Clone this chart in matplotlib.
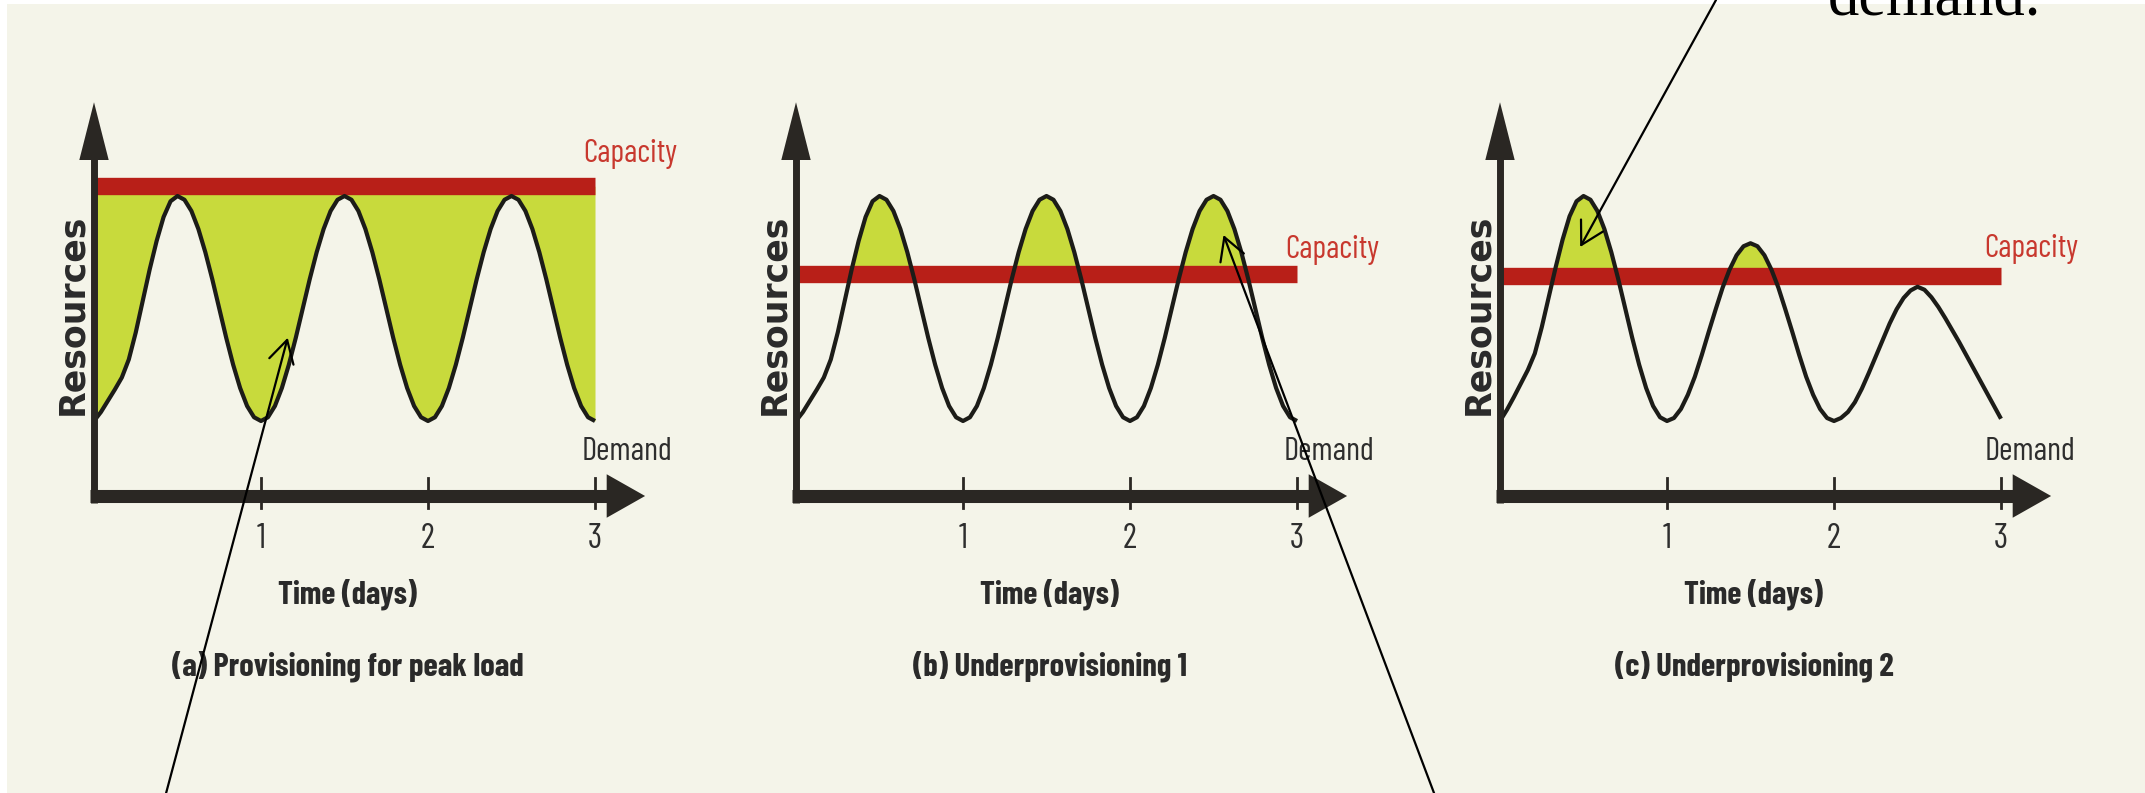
import numpy as np
import matplotlib
matplotlib.use("Agg")
import matplotlib.pyplot as plt
from matplotlib.patches import Rectangle, Polygon, FancyArrowPatch

# ---------------- data ----------------
time_days = np.linspace(0, 3, 73)          # sample grid, 1/24 day
tick_days = [1, 2, 3]
tick_labels = ["1", "2", "3"]

demand_ab = [1.00, 1.12, 1.27, 1.42, 1.58, 1.82, 2.18, 2.60, 3.02, 3.40, 3.72, 3.93, 4.00,
             3.95, 3.80, 3.56, 3.25, 2.89, 2.50, 2.11, 1.75, 1.44, 1.20, 1.05, 1.00,
             1.05, 1.20, 1.44, 1.75, 2.11, 2.50, 2.89, 3.25, 3.56, 3.80, 3.95, 4.00,
             3.95, 3.80, 3.56, 3.25, 2.89, 2.50, 2.11, 1.75, 1.44, 1.20, 1.05, 1.00,
             1.05, 1.20, 1.44, 1.75, 2.11, 2.50, 2.89, 3.25, 3.56, 3.80, 3.95, 4.00,
             3.95, 3.80, 3.56, 3.25, 2.89, 2.50, 2.11, 1.75, 1.44, 1.20, 1.05, 1.00]

demand_c = [1.00, 1.15, 1.32, 1.50, 1.68, 1.90, 2.25, 2.65, 3.05, 3.42, 3.73, 3.93, 4.00,
            3.95, 3.80, 3.56, 3.25, 2.89, 2.50, 2.11, 1.75, 1.44, 1.20, 1.05, 1.00,
            1.04, 1.16, 1.35, 1.59, 1.88, 2.19, 2.49, 2.78, 3.02, 3.21, 3.33, 3.37,
            3.33, 3.21, 3.02, 2.78, 2.49, 2.19, 1.88, 1.59, 1.35, 1.16, 1.04, 1.00,
            1.04, 1.12, 1.25, 1.43, 1.64, 1.86, 2.08, 2.30, 2.49, 2.64, 2.74, 2.79,
            2.75, 2.65, 2.52, 2.37, 2.21, 2.05, 1.88, 1.71, 1.54, 1.37, 1.20, 1.03]

capacity = {"a": 4.13, "b": 2.96, "c": 2.94}
captions = {"a": "(a) Provisioning for peak load",
            "b": "(b) Underprovisioning 1",
            "c": "(c) Underprovisioning 2"}
demands = {"a": demand_ab, "b": demand_ab, "c": demand_c}

# ---------------- style ----------------
W, H, DPI = 2145, 793, 100
CREAM = "#F4F4E9"
GREEN = "#C8DA3C"
RED = "#B81F18"
RED_TXT = "#C8382E"
AXC = "#2A2723"
LINEC = "#1C1C18"
SANS = ["Barlow Condensed", "Roboto Condensed", "DejaVu Sans"]

PX_PER_DAY = 167.0
PX_PER_UNIT = 75.0
XAXIS_PY = 496.0
origins_px = {"a": 94.0, "b": 796.0, "c": 1500.0}
XLIM = (-0.5, 3.6)
YLIM = (-(H - XAXIS_PY) / PX_PER_UNIT, XAXIS_PY / PX_PER_UNIT)

cap_label_y = {"a": 4.45, "b": 3.17, "c": 3.19}
cap_label_x = {"a": 2.93, "b": 2.93, "c": 2.90}
dem_label_x = {"a": 2.92, "b": 2.92, "c": 2.90}

fig = plt.figure(figsize=(W / DPI, H / DPI), dpi=DPI, facecolor="white")
fig.add_artist(Rectangle((7 / W, 0), 1, 1 - 4 / H, transform=fig.transFigure,
                         facecolor=CREAM, edgecolor="none", zorder=-10))

axes = {}
for key in ["a", "b", "c"]:
    ox = origins_px[key]
    left_px = ox + XLIM[0] * PX_PER_DAY
    width_px = (XLIM[1] - XLIM[0]) * PX_PER_DAY
    ax = fig.add_axes([left_px / W, 0, width_px / W, 1])
    ax.set_xlim(*XLIM)
    ax.set_ylim(*YLIM)
    ax.set_axis_off()
    ax.patch.set_alpha(0)
    axes[key] = ax

    dem = np.array(demands[key])
    cap = capacity[key]

    # fill
    if key == "a":
        ax.fill_between(time_days, dem, cap, color=GREEN, lw=0, zorder=1)
    else:
        ax.fill_between(time_days, cap, dem, where=dem > cap, interpolate=True,
                        color=GREEN, lw=0, zorder=1)
    # capacity band
    ax.plot([0, 3], [cap, cap], color=RED, lw=12.5, solid_capstyle="butt", zorder=2)
    # demand curve
    ax.plot(time_days, dem, color=LINEC, lw=3.0, solid_joinstyle="round",
            solid_capstyle="butt", zorder=3)

    # axes arrows
    ax.plot([0, 0], [-0.09, 4.5], color=AXC, lw=5.0, solid_capstyle="butt", zorder=4)
    ax.add_patch(Polygon([[0, 5.25], [-0.088, 4.48], [0.088, 4.48]], closed=True,
                         facecolor=AXC, edgecolor="none", zorder=4))
    ax.plot([-0.025, 3.08], [0, 0], color=AXC, lw=9.4, solid_capstyle="butt", zorder=4)
    ax.add_patch(Polygon([[3.30, 0], [3.07, 0.29], [3.07, -0.29]], closed=True,
                         facecolor=AXC, edgecolor="none", zorder=4))
    for t, lab in zip(tick_days, tick_labels):
        ax.plot([t, t], [0.24, -0.16], color=AXC, lw=2.0, zorder=5)
        ax.text(t, -0.69, lab, ha="center", va="baseline", fontsize=25,
                family=SANS, color="#2E2E2E")

    ax.text(cap_label_x[key], cap_label_y[key], "Capacity", ha="left", va="baseline",
            fontsize=23, family=SANS, color=RED_TXT)
    ax.text(dem_label_x[key], 0.48, "Demand", ha="left", va="baseline",
            fontsize=23.5, family=SANS, color="#2E2E2E")
    ax.text(1.515, -1.43, "Time (days)", ha="center", va="baseline", fontsize=23,
            family=SANS, fontweight="bold", color="#2A2A2A")
    ax.text(1.52, -2.39, captions[key], ha="center", va="baseline", fontsize=23.5,
            family=SANS, fontweight="bold", color="#2A2A2A")
    ax.text(-0.13, 2.42, "Resources", ha="center", va="center", rotation=90,
            fontsize=25, family=["DejaVu Sans"], fontweight="bold", color="#2A2A2A")

# overlay annotation arrows
arrow_kw = dict(arrowstyle="->,head_length=0.8,head_width=0.45", color="black",
                lw=1.6, mutation_scale=20, shrinkA=0, shrinkB=0, zorder=20)
pointers = [("a", (1.16, 2.11), (164 / W, -0.01)),
            ("b", (2.56, 3.48), (1437 / W, -0.01)),
            ("c", (0.48, 3.32), (1716 / W, 1.0))]
for key, tip, tail in pointers:
    ax = axes[key]
    tip_fig = fig.transFigure.inverted().transform(ax.transData.transform(tip))
    arr = FancyArrowPatch(posA=tail, posB=tuple(tip_fig), transform=fig.transFigure,
                          **arrow_kw)
    fig.add_artist(arr)

fig.text(1828 / W, 1 - 16 / H, "demand.", ha="left", va="baseline", fontsize=45,
         family=["Liberation Serif", "DejaVu Serif"], color="black")

fig.savefig("out.png", dpi=DPI, facecolor="white")
